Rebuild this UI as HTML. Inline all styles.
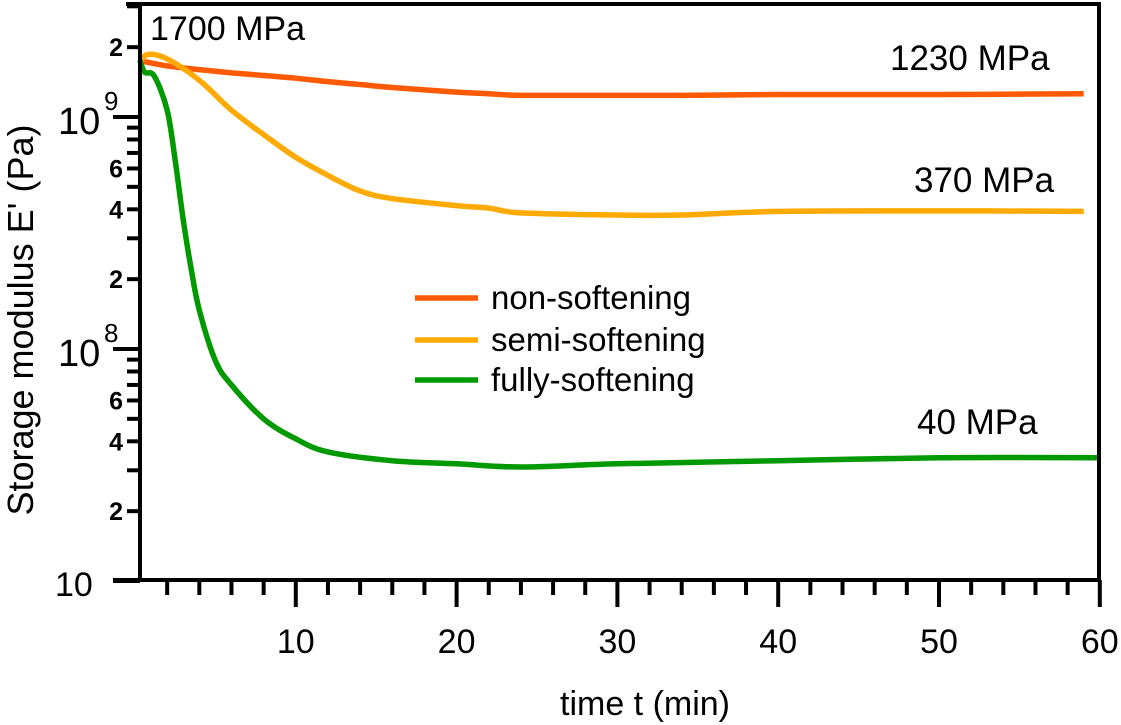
<!DOCTYPE html>
<html><head><meta charset="utf-8"><style>
body{margin:0;background:#fff;}
svg{display:block;font-family:"Liberation Sans",Arial,sans-serif;}
</style></head><body>
<svg id="chart" width="1121" height="725">
<g id="marks"></g>
<g id="axes"></g>
</svg>
<script>
const times=[0.3,0.8,2,4,6,8,10,12,14,16,20,22,24,30,34,40,50,59];
const nonSoft=[1.75e9,1.72e9,1.66e9,1.6e9,1.55e9,1.51e9,1.47e9,1.42e9,1.38e9,1.34e9,1.28e9,1.26e9,1.24e9,1.24e9,1.24e9,1.25e9,1.25e9,1.26e9];
const semiSoft=[1.72e9,1.86e9,1.78e9,1.44e9,1.07e9,8.4e8,6.7e8,5.6e8,4.8e8,4.45e8,4.15e8,4.05e8,3.86e8,3.78e8,3.78e8,3.92e8,3.94e8,3.92e8];
const fullTimes=[0.3,0.6,1.2,2,2.5,3,3.5,4,5,6,8,10,12,16,20,24,30,40,50,60];
const fullSoft=[1.76e9,1.56e9,1.5e9,1.07e9,6.5e8,3.6e8,2.2e8,1.47e8,8.9e7,7.0e7,5.0e7,4.1e7,3.6e7,3.3e7,3.2e7,3.1e7,3.2e7,3.3e7,3.4e7,3.4e7];
const xTicks=[10,20,30,40,50,60];
const ns="http://www.w3.org/2000/svg";
function X(t){return 135+t*16.08;}
function Y(v){return 117-(Math.log10(v)-9)*232;}
const svg=document.getElementById('chart');
const marks=document.getElementById('marks');
const axes=document.getElementById('axes');
function mk(tag,attrs,parent){const e=document.createElementNS(ns,tag);for(const k in attrs)e.setAttribute(k,attrs[k]);parent.appendChild(e);return e;}
function path(ts,vs){let d='';const pts=ts.map((t,i)=>[X(t),Y(vs[i])]);
 d='M'+pts[0][0]+','+pts[0][1];
 for(let i=0;i<pts.length-1;i++){const p0=pts[Math.max(i-1,0)],p1=pts[i],p2=pts[i+1],p3=pts[Math.min(i+2,pts.length-1)];
  d+=' C'+(p1[0]+(p2[0]-p0[0])/6)+','+(p1[1]+(p2[1]-p0[1])/6)+' '+(p2[0]-(p3[0]-p1[0])/6)+','+(p2[1]-(p3[1]-p1[1])/6)+' '+p2[0]+','+p2[1];}
 return d;}
const series=[[times,nonSoft,'#ff5a00','non-softening-line'],[times,semiSoft,'#ffaa00','semi-softening-line'],[fullTimes,fullSoft,'#009a00','fully-softening-line']];
series.forEach(s=>{const p=mk('path',{d:path(s[0],s[1]),fill:'none',stroke:s[2],'stroke-width':5.5,'stroke-linejoin':'round'},marks);

});
mk('path',{d:'M126,4 H1099 V580',fill:'none',stroke:'#000','stroke-width':4},axes);
mk('line',{x1:140,y1:4,x2:140,y2:582,stroke:'#000','stroke-width':4},axes);
mk('line',{x1:113,y1:580,x2:1101,y2:580,stroke:'#000','stroke-width':4},axes);
for(let t=2;t<=60;t+=2){const major=t%10===0;mk('line',{x1:X(t),y1:580,x2:X(t),y2:major?607:595,stroke:'#000','stroke-width':4},axes);}
xTicks.forEach(t=>{const e=mk('text',{x:X(t),y:653,'font-size':34,'text-anchor':'middle'},axes);e.textContent=t;

});
[7,8,9].forEach(d=>{for(let m=1;m<=9;m++){const v=m*Math.pow(10,d);const y=Y(v);if(y<6)continue;
 const major=m===1;mk('line',{x1:major?113:127,y1:y,x2:140,y2:y,stroke:'#000','stroke-width':4},axes);
 if(m===2||m===4||m===6){const e=mk('text',{x:123,y:y+9,'font-size':25,'font-weight':'bold','text-anchor':'end'},axes);e.textContent=m;
 
 }}});
function lbl(txt,x,y,size,name,anchor){const e=mk('text',{x:x,y:y,'font-size':size,'text-anchor':anchor||'start'},axes);e.textContent=txt;

return e;}
lbl('10',58,134,38,'y-tick-10e9');lbl('9',104,110,26,'y-tick-exp9');
lbl('10',58,366,38,'y-tick-10e8');lbl('8',104,342,26,'y-tick-exp8');
lbl('10',55,596,34,'y-tick-10e7');
lbl('1700 MPa',150,40,34,'annotation-1700');
lbl('1230 MPa',890,70,35,'annotation-1230');
lbl('370 MPa',914,192,35,'annotation-370');
lbl('40 MPa',917,434,35,'annotation-40');
lbl('time t (min)',645,715,34,'x-axis-title','middle');
const yt=lbl("Storage modulus E' (Pa)",0,0,36,'y-axis-title','middle');
yt.setAttribute('transform','translate(33,320) rotate(-90)');
const leg=[['non-softening','#ff5a00',298],['semi-softening','#ffaa00',340],['fully-softening','#009a00',380]];
leg.forEach(l=>{const ln=mk('line',{x1:415,y1:l[2],x2:478,y2:l[2],stroke:l[1],'stroke-width':5.5},axes);


lbl(l[0],491,l[2]+11,33,'legend-entry');});
</script>
</body></html>
